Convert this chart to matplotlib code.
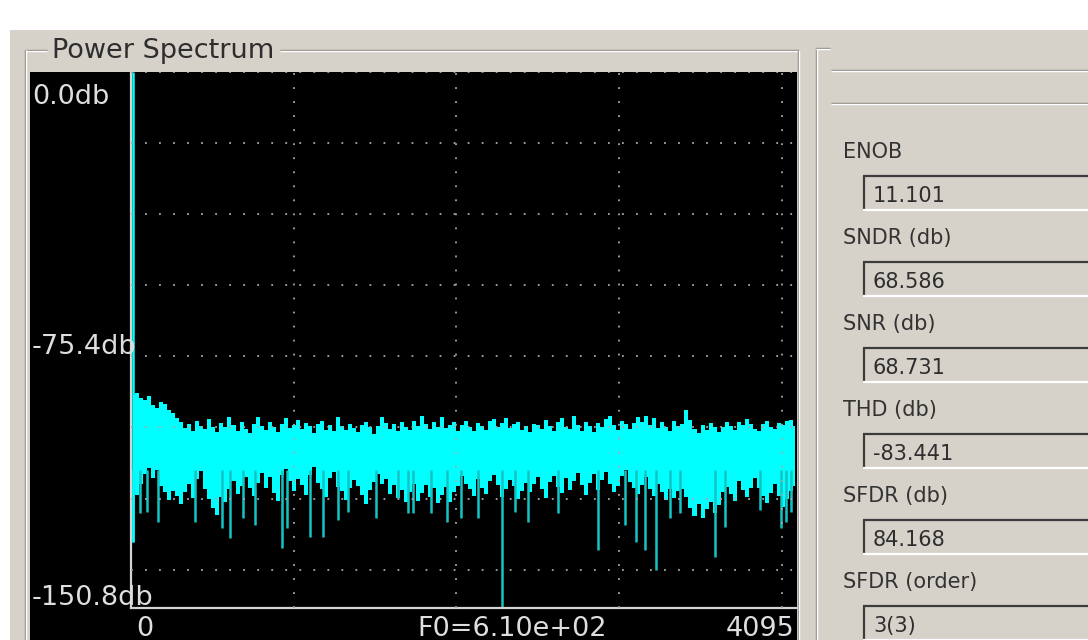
import numpy as np
import matplotlib
matplotlib.use("Agg")
import matplotlib.pyplot as plt
from matplotlib.patches import Rectangle

plt.rcParams['font.family'] = ['DejaVu Sans']
plt.rcParams['lines.scale_dashes'] = False

# ---------------- data ----------------
N_FFT_MAX = 4095
y_min_db = -150.8
y_mid_db = -75.4
y_max_db = 0.0
f0_label = "F0=6.10e+02"

# upper envelope of the noise floor (dB), left to right
peak_db = [
    -90.9, -90.2, -91.8, -92.3, -91.2, -93.6, -94.6, -92.8, -93.5, -95.2, -96.0, -97.4,
    -98.6, -100.2, -99.0, -101.0, -98.2, -99.6, -100.5, -97.6, -99.8, -101.3,
    -98.8, -100.0, -97.2, -99.4, -100.9, -98.6, -100.3, -101.6, -99.1, -97.0,
    -99.7, -100.8, -98.4, -99.9, -101.2, -98.9, -97.4, -100.1, -99.3, -98.0,
    -100.4, -98.7, -99.6, -101.5, -99.0, -98.1, -100.6, -99.2, -101.0, -97.1,
    -99.5, -100.7, -98.9, -100.2, -101.4, -99.3, -98.5, -100.0, -101.8, -99.6,
    -97.0, -98.8, -100.3, -99.1, -101.1, -98.6, -99.9, -100.8, -98.2, -99.7,
    -96.8, -99.0, -100.5, -98.4, -99.8, -97.0, -100.1, -99.2, -98.6, -100.9,
    -99.4, -98.1,
    -99.8, -101.0, -98.7, -99.5, -100.6, -98.3, -97.6, -99.9, -98.8, -97.4,
    -100.2, -99.1, -98.5, -100.7, -99.6, -101.2, -98.9, -99.3, -100.4, -98.0,
    -99.7, -101.0, -98.6, -97.3, -99.8, -100.5, -96.8, -99.2, -100.9, -98.4,
    -99.6, -101.3, -98.7, -99.9, -97.5, -96.9, -99.4, -100.6, -98.2, -99.0,
    -100.3, -98.8,
    -97.0, -98.5, -96.7, -99.4, -97.3, -100.1, -98.6, -99.8, -101.0, -98.2,
    -99.5, -98.9, -95.2, -97.8, -100.4, -101.5, -99.3, -100.6, -98.7, -99.9,
    -101.2, -100.0, -98.4, -99.7, -100.8, -98.6, -99.2, -97.6, -98.9, -100.3,
    -101.1, -99.0, -98.3, -99.8, -100.5, -98.7, -99.4, -98.1, -97.9, -99.6,
]

# lower edge of the solid noise band (dB)
floor_db = [
    -117.5, -119.0, -115.8, -113.0, -111.4, -114.2, -112.0, -116.6, -118.2, -120.5, -117.9, -119.4,
    -121.6, -118.3, -116.0, -119.8, -114.5, -112.2, -117.4, -120.1, -122.8, -124.5,
    -119.6, -121.0, -117.3, -115.2, -118.8, -116.4, -113.9, -117.0, -119.3, -115.6,
    -112.8, -116.9, -114.0, -118.5, -120.7, -113.5, -111.7, -115.0, -117.8, -114.6,
    -116.2, -118.9, -113.4, -111.0, -115.7, -117.2, -119.5, -114.1, -112.6, -116.8,
    -118.0, -120.3, -117.1, -114.9, -116.5, -119.1, -121.4, -117.6, -115.3, -113.2,
    -116.0, -114.4, -118.6, -116.3, -119.8, -117.5, -121.0, -118.2, -115.9, -120.6,
    -118.4, -116.1, -119.7, -117.0, -121.2, -119.0, -116.7, -120.9, -118.1, -116.4,
    -113.7, -115.8,
    -117.3, -119.2, -114.6, -116.9, -118.7, -115.1, -113.5, -116.2, -119.6, -117.4,
    -114.8, -116.6, -120.1, -117.8, -115.5, -118.3, -116.0, -113.9, -117.2, -119.9,
    -115.4, -113.6, -116.8, -118.5, -114.2, -117.7, -115.0, -112.9, -116.3, -118.9,
    -115.7, -113.1, -117.5, -114.7, -112.4, -115.9, -118.2, -116.5, -113.8, -111.9,
    -115.3, -117.0,
    -118.6, -116.2, -114.0, -117.4, -119.3, -115.8, -118.1, -120.4, -117.2, -119.8,
    -118.0, -117.3, -119.5, -122.7, -124.9, -121.6, -125.4, -123.0, -120.9, -124.1,
    -121.8, -118.1, -116.7, -118.6, -120.8, -115.2, -117.5, -119.6, -116.9, -114.3,
    -117.1, -119.4, -121.3, -118.5, -116.0, -119.2, -122.5, -120.1, -117.8, -116.4,
]

# fundamental / DC spike
dc_bin = 12
dc_db = 0.0

# isolated narrow dips below the band (bin, dB)
dip_bin = [12, 55, 98, 166, 393, 559, 608, 688, 761, 927, 958,
           1099, 1179, 1271, 1332, 1504, 1639, 1701, 1731, 1842, 1946, 2026,
           2131, 2284, 2364, 2444, 2628, 2874, 3039,
           3107, 3162, 3230, 3316, 3377, 3592, 3653, 3868, 3997, 4028, 4059]
dip_db = [-132.2, -124.1, -123.8, -126.6, -126.6, -128.3, -131.1, -125.5, -127.4, -133.9, -128.3,
          -130.8, -130.8, -126.0, -123.8, -125.5, -119.9, -124.1, -124.1, -124.1, -126.6, -125.5,
          -125.5, -150.8, -123.8, -126.6, -124.1, -134.5, -127.4,
          -132.2, -134.5, -140.1, -125.5, -124.1, -136.5, -128.0, -123.2, -128.3, -126.6, -123.8]

metric_names = ["ENOB", "SNDR (db)", "SNR (db)", "THD (db)", "SFDR (db)", "SFDR (order)"]
metric_values = ["11.101", "68.586", "68.731", "-83.441", "84.168", "3(3)"]

# ---------------- figure ----------------
W, H = 1088, 640
fig = plt.figure(figsize=(W / 100, H / 100), dpi=100, facecolor="white")
bg = fig.add_axes([0, 0, 1, 1])
bg.set_xlim(0, W)
bg.set_ylim(H, 0)
bg.axis("off")

GRAY = "#d6d2ca"
DARK = "#8a8780"
LIGHT = "#ffffff"

bg.add_patch(Rectangle((10, 30), W - 10, H - 30, facecolor=GRAY, edgecolor="none", zorder=0))


def etched_h(x0, x1, y):
    bg.plot([x0, x1], [y, y], color=DARK, lw=1.0, solid_capstyle="butt", zorder=1)
    bg.plot([x0, x1], [y + 1.4, y + 1.4], color=LIGHT, lw=1.0, solid_capstyle="butt", zorder=1)


def etched_v(x, y0, y1):
    bg.plot([x, x], [y0, y1], color=DARK, lw=1.0, solid_capstyle="butt", zorder=1)
    bg.plot([x + 1.4, x + 1.4], [y0, y1], color=LIGHT, lw=1.0, solid_capstyle="butt", zorder=1)


# left group box
etched_h(25, 47, 50)
etched_h(280, 799, 50)
etched_v(25, 50, H)
etched_v(798, 50, H)
bg.text(52, 58, "Power Spectrum", fontsize=19.5, color="#2e2e2e", ha="left", va="baseline")

# black plot canvas
bg.add_patch(Rectangle((30, 72), 767, H - 72, facecolor="black", edgecolor="none", zorder=2))

# right group box
etched_v(816, 48, H)
etched_h(816, 830, 48)
etched_h(831, W, 70)
etched_h(831, W, 103)

for i, (name, val) in enumerate(zip(metric_names, metric_values)):
    off = 86 * i
    bg.text(843, 158 + off, name, fontsize=15, color="#333333", ha="left", va="baseline")
    top = 176 + off
    bot = 210 + off
    bg.plot([863, W], [top, top], color="#3c3c3c", lw=1.6, solid_capstyle="butt", zorder=3)
    bg.plot([864, 864], [top, bot], color="#3c3c3c", lw=1.6, solid_capstyle="butt", zorder=3)
    bg.plot([863, W], [bot, bot], color=LIGHT, lw=1.6, solid_capstyle="butt", zorder=3)
    bg.text(873, 202 + off, val, fontsize=15, color="#2e2e2e", ha="left", va="baseline")

# ---------------- spectrum axes ----------------
ax_l, ax_r, ax_t, ax_b = 131, 797, 72, 608
ax = fig.add_axes([ax_l / W, (H - ax_b) / H, (ax_r - ax_l) / W, (ax_b - ax_t) / H])
ax.set_facecolor("black")
ax.set_xlim(0, N_FFT_MAX)
ax.set_ylim(y_min_db, y_max_db)
ax.set_xticks([])
ax.set_yticks([])
for s in ("top", "right"):
    ax.spines[s].set_visible(False)
for s in ("left", "bottom"):
    ax.spines[s].set_color("#d4d4d4")
    ax.spines[s].set_linewidth(1.6)

bins = np.linspace(14, N_FFT_MAX - 14, len(peak_db))
ax.fill_between(bins, floor_db, peak_db, step="mid", color="#00ffff", lw=0, zorder=2)
ax.vlines(dip_bin, dip_db, -112, color="#14c4c4", lw=1.8, zorder=2)
ax.vlines([dc_bin], dip_db[0], dc_db, color="#00ffff", lw=1.8, zorder=2)

grid_kw = dict(color="#a8a8a8", lw=1.3, linestyle=(0, (1.3, 8.8)), zorder=4)
for gx in [1000, 2000, 3000, 4000]:
    ax.axvline(gx, **grid_kw)
for gy in [0, -20, -40, -60, -80, -100, -120, -140]:
    ax.axhline(gy, **grid_kw)

# overlay for axis labels (drawn above the plot area, in pixel space)
ov = fig.add_axes([0, 0, 1, 1])
ov.set_xlim(0, W)
ov.set_ylim(H, 0)
ov.axis("off")
ov.patch.set_alpha(0)

lab_kw = dict(fontsize=19.5, color="#dedede")
ov.text(32, 104, f"{y_max_db:.1f}db", ha="left", va="baseline", **lab_kw)
ov.text(32, 354, f"{y_mid_db:.1f}db", ha="left", va="baseline", **lab_kw)
ov.text(32, 605, f"{y_min_db:.1f}db", ha="left", va="baseline", **lab_kw)
ov.text(145, 636, "0", ha="center", va="baseline", **lab_kw)
ov.text(512, 636, f0_label, ha="center", va="baseline", **lab_kw)
ov.text(794, 636, str(N_FFT_MAX), ha="right", va="baseline", **lab_kw)

fig.savefig("out.png", dpi=100, facecolor="white")
